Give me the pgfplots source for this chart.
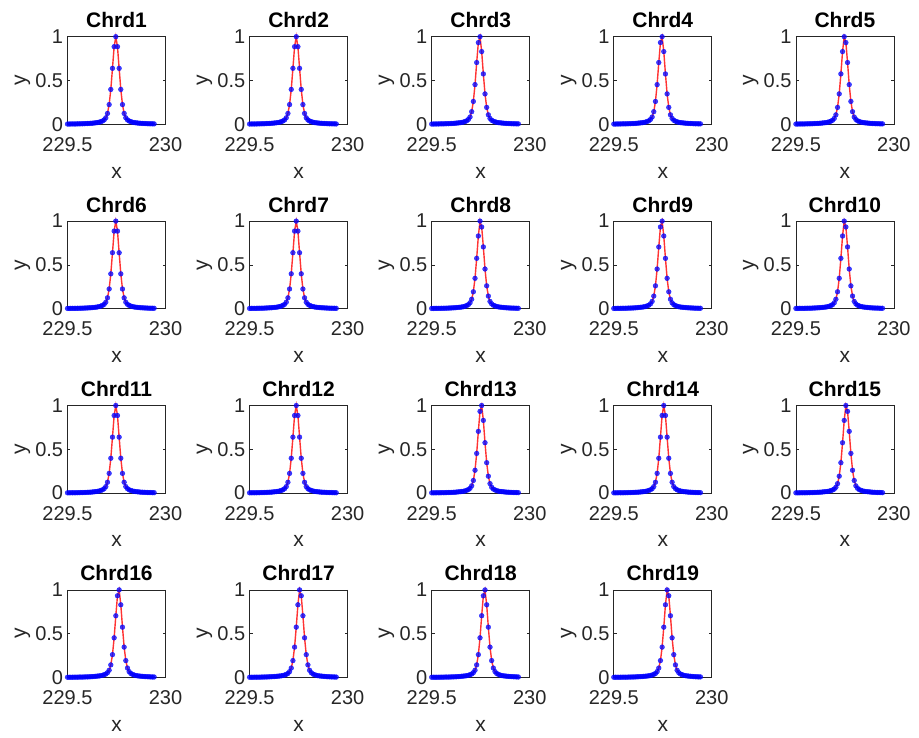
\documentclass[border=0pt]{standalone}
\usepackage{fontspec}
\setmainfont{Liberation Sans}
\usepackage{pgfplots}
\usepackage{pgfplotstable}
\pgfplotsset{compat=1.18}
\definecolor{axgray}{HTML}{262626}

% x grid shared by all chords; columns A..K hold the normalised profiles
\pgfplotstableread{
x A B C D E F G H J K
229.5 0.003 0.003 0.003 0.003 0.003 0.003 0.003 0.003 0.003 0.003
229.5085 0.004 0.003 0.003 0.003 0.003 0.003 0.003 0.003 0.003 0.003
229.517 0.004 0.004 0.003 0.004 0.003 0.003 0.003 0.004 0.003 0.003
229.5255 0.004 0.004 0.004 0.004 0.004 0.003 0.003 0.004 0.004 0.003
229.534 0.004 0.004 0.004 0.004 0.004 0.004 0.003 0.004 0.004 0.003
229.5425 0.005 0.004 0.004 0.005 0.004 0.004 0.004 0.004 0.004 0.004
229.551 0.005 0.005 0.004 0.005 0.005 0.004 0.004 0.005 0.004 0.004
229.5595 0.006 0.005 0.005 0.005 0.005 0.005 0.004 0.005 0.005 0.004
229.568 0.006 0.006 0.005 0.006 0.005 0.005 0.005 0.006 0.005 0.004
229.5765 0.007 0.006 0.006 0.007 0.006 0.005 0.005 0.006 0.006 0.005
229.585 0.008 0.007 0.006 0.007 0.007 0.006 0.005 0.007 0.006 0.005
229.5935 0.009 0.008 0.007 0.008 0.007 0.007 0.006 0.008 0.007 0.006
229.602 0.010 0.009 0.008 0.009 0.008 0.007 0.007 0.009 0.008 0.006
229.6105 0.011 0.010 0.009 0.010 0.009 0.008 0.007 0.010 0.009 0.007
229.619 0.013 0.011 0.010 0.012 0.010 0.009 0.008 0.011 0.010 0.008
229.6275 0.015 0.013 0.011 0.014 0.012 0.010 0.009 0.013 0.011 0.009
229.636 0.017 0.015 0.013 0.016 0.014 0.012 0.010 0.015 0.013 0.010
229.6445 0.020 0.017 0.015 0.018 0.016 0.014 0.012 0.017 0.015 0.011
229.653 0.024 0.020 0.017 0.021 0.018 0.016 0.014 0.019 0.017 0.013
229.6615 0.030 0.024 0.020 0.025 0.021 0.018 0.016 0.023 0.019 0.015
229.67 0.038 0.030 0.024 0.032 0.025 0.021 0.018 0.028 0.023 0.017
229.6785 0.050 0.038 0.030 0.040 0.032 0.025 0.021 0.036 0.028 0.019
229.687 0.074 0.050 0.038 0.055 0.040 0.032 0.025 0.046 0.036 0.023
229.6955 0.124 0.074 0.050 0.083 0.055 0.040 0.032 0.067 0.046 0.028
229.704 0.225 0.124 0.074 0.144 0.083 0.055 0.040 0.108 0.067 0.036
229.7125 0.398 0.225 0.124 0.261 0.144 0.083 0.055 0.193 0.108 0.046
229.721 0.639 0.398 0.225 0.453 0.261 0.144 0.083 0.347 0.193 0.067
229.7295 0.886 0.639 0.398 0.705 0.453 0.261 0.144 0.575 0.347 0.108
229.738 1 0.886 0.639 0.933 0.705 0.453 0.261 0.830 0.575 0.193
229.7465 0.886 1 0.886 1 0.933 0.705 0.453 1 0.830 0.347
229.755 0.639 0.886 1 0.830 1 0.933 0.705 0.933 1 0.575
229.7635 0.398 0.639 0.886 0.575 0.830 1 0.933 0.705 0.933 0.830
229.772 0.225 0.398 0.639 0.347 0.575 0.830 1 0.453 0.705 1
229.7805 0.124 0.225 0.398 0.193 0.347 0.575 0.830 0.261 0.453 0.933
229.789 0.074 0.124 0.225 0.108 0.193 0.347 0.575 0.144 0.261 0.705
229.7975 0.050 0.074 0.124 0.067 0.108 0.193 0.347 0.083 0.144 0.453
229.806 0.038 0.050 0.074 0.046 0.067 0.108 0.193 0.055 0.083 0.261
229.8145 0.030 0.038 0.050 0.036 0.046 0.067 0.108 0.040 0.055 0.144
229.823 0.024 0.030 0.038 0.028 0.036 0.046 0.067 0.032 0.040 0.083
229.8315 0.020 0.024 0.030 0.023 0.028 0.036 0.046 0.025 0.032 0.055
229.84 0.017 0.020 0.024 0.019 0.023 0.028 0.036 0.021 0.025 0.040
229.8485 0.015 0.017 0.020 0.017 0.019 0.023 0.028 0.018 0.021 0.032
229.857 0.013 0.015 0.017 0.015 0.017 0.019 0.023 0.016 0.018 0.025
229.8655 0.011 0.013 0.015 0.013 0.015 0.017 0.019 0.014 0.016 0.021
229.874 0.010 0.011 0.013 0.011 0.013 0.015 0.017 0.012 0.014 0.018
229.8825 0.009 0.010 0.011 0.010 0.011 0.013 0.015 0.010 0.012 0.016
229.891 0.008 0.009 0.010 0.009 0.010 0.011 0.013 0.009 0.010 0.014
229.8995 0.007 0.008 0.009 0.008 0.009 0.010 0.011 0.008 0.009 0.012
229.908 0.006 0.007 0.008 0.007 0.008 0.009 0.010 0.007 0.008 0.010
229.9165 0.006 0.006 0.007 0.006 0.007 0.008 0.009 0.007 0.007 0.009
229.925 0.005 0.006 0.006 0.006 0.006 0.007 0.008 0.006 0.007 0.008
229.9335 0.005 0.005 0.006 0.005 0.006 0.006 0.007 0.005 0.006 0.007
229.942 0.004 0.005 0.005 0.005 0.005 0.006 0.006 0.005 0.005 0.007
}\peaks

\pgfplotsset{chrd/.style={
  scale only axis, width=98pt, height=87.6pt, anchor=north west,
  xmin=229.5, xmax=230, ymin=0, ymax=1,
  xtick={229.5,230}, xticklabels={229.5,230},
  ytick={0,0.5,1}, yticklabels={0,0.5,1},
  tick align=inside, xtick pos=both, ytick pos=both,
  major tick length=3pt,
  axis line style={axgray, line width=0.8pt},
  tick style={axgray, line width=0.8pt},
  /pgf/number format/assume math mode=true,
  ticklabel style={font=\fontsize{20}{24}\selectfont, text=axgray, inner sep=1pt},
  xticklabel style={yshift=-12pt},
  yticklabel style={xshift=-3.2pt},
  title style={font=\bfseries\fontsize{21}{25}\selectfont, text=black,
    at={(axis description cs:0.5,1.12)}, anchor=center},
  xlabel={x}, ylabel={y},
  every axis x label/.style={at={(axis description cs:0.5,-0.55)}, anchor=center,
    font=\fontsize{21}{25}\selectfont, text=axgray},
  every axis y label/.style={at={(axis description cs:-0.46,0.5)}, anchor=center,
    rotate=90, font=\fontsize{21}{25}\selectfont, text=axgray},
  clip=false,
}}

\newcommand{\chrd}[4]{%
\begin{axis}[chrd, at={(#1pt,-#2pt)}, title={#3}]
\addplot[only marks, mark=*, mark size=2.4pt, blue,
  mark options={fill=blue, draw=blue, opacity=0.75}] table[x=x,y=#4]{\peaks};
\addplot[red, line width=1.4pt, opacity=0.8, mark=none] table[x=x,y=#4]{\peaks};
\end{axis}}

\begin{document}
\begin{tikzpicture}
\chrd{67.5}{36.7}{Chrd1}{B}
\chrd{249.6}{36.7}{Chrd2}{A}
\chrd{431.7}{36.7}{Chrd3}{D}
\chrd{613.8}{36.7}{Chrd4}{D}
\chrd{795.9}{36.7}{Chrd5}{H}
\chrd{67.5}{221.1}{Chrd6}{B}
\chrd{249.6}{221.1}{Chrd7}{A}
\chrd{431.7}{221.1}{Chrd8}{H}
\chrd{613.8}{221.1}{Chrd9}{D}
\chrd{795.9}{221.1}{Chrd10}{H}
\chrd{67.5}{405.5}{Chrd11}{B}
\chrd{249.6}{405.5}{Chrd12}{A}
\chrd{431.7}{405.5}{Chrd13}{E}
\chrd{613.8}{405.5}{Chrd14}{C}
\chrd{795.9}{405.5}{Chrd15}{J}
\chrd{67.5}{589.9}{Chrd16}{F}
\chrd{249.6}{589.9}{Chrd17}{J}
\chrd{431.7}{589.9}{Chrd18}{G}
\chrd{613.8}{589.9}{Chrd19}{K}
\pgfresetboundingbox
\path (0pt,0pt) rectangle (919pt,-738pt);
\end{tikzpicture}
\end{document}
